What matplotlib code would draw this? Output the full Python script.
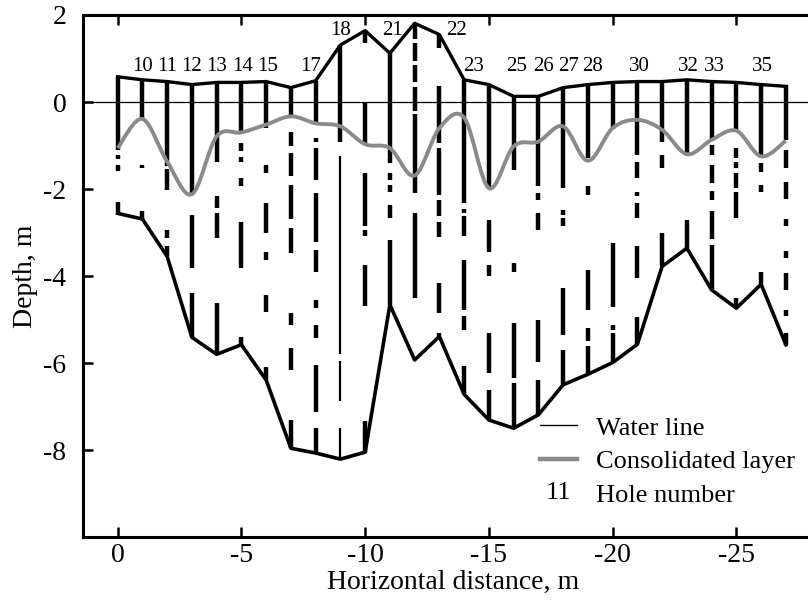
import matplotlib
matplotlib.use("Agg")
import matplotlib.pyplot as plt
from matplotlib.path import Path
from matplotlib.patches import PathPatch
from matplotlib.lines import Line2D
from matplotlib.text import Text
from matplotlib.legend_handler import HandlerBase

plt.rcParams['font.family'] = ['Liberation Serif', 'DejaVu Serif']
plt.rcParams['axes.unicode_minus'] = False

# hole positions along the profile (m)
hole_x = [0, -1, -2, -3, -4, -5, -6, -7, -8, -9, -10, -11, -12, -13,
          -14, -15, -16, -17, -18, -19, -20, -21, -22, -23, -24, -25, -26, -27]

# ice surface (top) and ice bottom (keel) at each hole, m
top_y = [0.58, 0.51, 0.47, 0.40, 0.45, 0.45, 0.47, 0.33, 0.49, 1.31, 1.64, 1.12, 1.81, 1.55,
         0.51, 0.40, 0.13, 0.13, 0.33, 0.40, 0.45, 0.47, 0.47, 0.51, 0.47, 0.45, 0.40, 0.36]
bottom_y = [-2.56, -2.69, -3.55, -5.41, -5.80, -5.58, -6.39, -7.96, -8.07, -8.21, -8.05, -4.66, -5.93, -5.39,
            -6.72, -7.31, -7.50, -7.19, -6.50, -6.26, -5.99, -5.57, -3.78, -3.36, -4.32, -4.74, -4.19, -5.58]

# consolidated layer depth at each hole, m
cons_y = [-1.06, -0.39, -1.37, -2.12, -0.79, -0.70, -0.52, -0.33, -0.49, -0.56, -0.97, -1.06, -1.69, -0.60,
          -0.36, -1.98, -1.02, -0.91, -0.56, -1.35, -0.60, -0.41, -0.64, -1.20, -0.87, -0.66, -1.25, -0.89]

# solid ice intervals found while drilling each hole (top, bottom), m
ice_runs = [
    [(0.58, -1.10), (-1.22, -1.32), (-1.44, -1.58), (-2.30, -2.56)],
    [(0.51, -0.41), (-1.44, -1.52), (-2.50, -2.69)],
    [(0.47, -1.48), (-1.55, -2.02), (-2.94, -3.13), (-3.32, -3.55)],
    [(0.40, -2.10), (-2.59, -3.81), (-4.39, -5.41)],
    [(0.45, -1.37), (-2.17, -2.44), (-2.56, -3.13), (-4.62, -5.80)],
    [(0.45, -0.72), (-0.95, -1.13), (-1.26, -1.38), (-1.75, -1.94), (-2.75, -3.82), (-5.40, -5.58)],
    [(0.47, -0.60), (-1.44, -1.64), (-2.33, -3.02), (-3.44, -3.63), (-4.43, -4.82), (-6.10, -6.39)],
    [(0.33, -0.33), (-0.68, -1.02), (-1.18, -1.70), (-1.90, -2.69), (-2.90, -3.48), (-4.85, -5.12),
     (-5.66, -6.16), (-7.30, -7.96)],
    [(0.49, -0.45), (-0.83, -0.91), (-1.06, -1.79), (-2.10, -3.21), (-3.40, -3.90), (-4.55, -4.74),
     (-5.12, -5.43), (-6.04, -7.12), (-7.50, -8.07)],
    [(1.31, -0.91), (-1.25, -5.80), (-5.95, -6.88), (-7.50, -8.21)],
    [(1.64, 1.35), (0.00, -0.97), (-1.64, -2.86), (-2.94, -3.09), (-3.74, -4.70), (-7.34, -8.05)],
    [(1.12, -1.41), (-1.64, -1.79), (-1.91, -2.06), (-2.37, -2.67), (-3.17, -4.66)],
    [(1.81, 1.45), (1.35, 0.95), (0.85, 0.45), (0.35, -0.20), (-0.28, -2.10), (-2.55, -4.51)],
    [(1.55, 1.25), (0.36, -0.95), (-1.06, -2.14), (-2.25, -2.63), (-2.75, -3.10), (-4.17, -4.85),
     (-5.30, -5.39)],
    [(0.51, -2.33), (-2.45, -2.55), (-2.63, -3.09), (-3.63, -4.78), (-4.93, -5.24), (-6.08, -6.72)],
    [(0.40, -1.98), (-2.71, -3.44), (-3.74, -4.01), (-5.31, -6.23), (-6.62, -7.31)],
    [(0.13, -1.56), (-3.71, -3.90), (-5.08, -6.35), (-6.46, -7.50)],
    [(0.13, -1.94), (-2.10, -2.25), (-2.56, -2.94), (-5.01, -5.97), (-6.39, -7.19)],
    [(0.33, -1.98), (-2.48, -2.59), (-2.67, -2.86), (-4.28, -5.35), (-5.70, -6.50)],
    [(0.40, -1.29), (-1.94, -2.13), (-3.86, -4.78), (-5.20, -5.50), (-5.62, -6.26)],
    [(0.45, -0.61), (-3.25, -4.72), (-5.12, -5.24), (-5.31, -5.99)],
    [(0.47, -1.21), (-1.37, -1.75), (-2.06, -2.17), (-2.33, -2.67), (-3.30, -4.05), (-4.95, -5.57)],
    [(0.47, -0.91), (-1.21, -1.52), (-3.02, -3.78)],
    [(0.51, -1.21), (-2.71, -3.36)],
    [(0.47, -0.90), (-0.98, -1.21), (-1.44, -1.87), (-2.05, -2.25), (-2.50, -3.15), (-3.28, -4.31)],
    [(0.45, -0.64), (-1.06, -1.29), (-1.37, -1.52), (-1.64, -1.98), (-2.06, -2.67), (-4.50, -4.74)],
    [(0.40, -1.25), (-1.41, -1.60), (-1.90, -2.06), (-3.90, -4.19)],
    [(0.38, -0.87), (-1.10, -1.52), (-1.85, -2.24), (-2.69, -2.84), (-3.43, -3.59), (-3.93, -4.32),
     (-4.78, -4.93), (-5.30, -5.58)],
]

# hole numbers written above the profile
hole_nums = ['10', '11', '12', '13', '14', '15', '17', '18', '21', '22',
             '23', '25', '26', '27', '28', '30', '32', '33', '35']
num_x = [-1, -2, -3, -4, -5.05, -6.05, -7.8, -9, -11.1, -13.7,
         -14.4, -16.1, -17.2, -18.2, -19.2, -21.1, -23.05, -24.1, -26.05]
num_y = [0.82, 0.82, 0.82, 0.82, 0.82, 0.82, 0.82, 1.64, 1.64, 1.64,
         0.82, 0.82, 0.82, 0.82, 0.82, 0.82, 0.82, 0.82, 0.82]


def smooth_path(xs, ys):
    # catmull-rom through the points, drawn as cubic bezier pieces
    pts = list(zip(xs, ys))
    verts = [pts[0]]
    codes = [Path.MOVETO]
    n = len(pts)
    for i in range(n - 1):
        p0 = pts[i - 1] if i > 0 else pts[i]
        p1 = pts[i]
        p2 = pts[i + 1]
        p3 = pts[i + 2] if i + 2 < n else pts[i + 1]
        c1 = (p1[0] + (p2[0] - p0[0]) / 6, p1[1] + (p2[1] - p0[1]) / 6)
        c2 = (p2[0] - (p3[0] - p1[0]) / 6, p2[1] - (p3[1] - p1[1]) / 6)
        verts += [c1, c2, p2]
        codes += [Path.CURVE4] * 3
    return Path(verts, codes)


class HandlerLabel(HandlerBase):
    def create_artists(self, legend, orig_handle, xdescent, ydescent,
                       width, height, fontsize, trans):
        t = Text(width / 2 - xdescent, height / 2 - ydescent, orig_handle.get_text(),
                 ha='center', va='center', fontsize=fontsize, transform=trans)
        return [t]


fig = plt.figure(figsize=(8.08, 6.05), dpi=100)
ax = fig.add_axes([83 / 808, 68 / 605, 740 / 808, 522 / 605])

for k, x in enumerate(hole_x):
    for j, (a, b) in enumerate(ice_runs[k]):
        lw = 3.2
        if x == -9 and j > 0:
            lw = 1.6
        ax.plot([x, x], [a, b], color='black', lw=lw, solid_capstyle='butt', zorder=2)

ax.axhline(0, color='black', lw=0.9, zorder=3)
ax.plot(hole_x, top_y, color='black', lw=2.4, zorder=4)
ax.plot(hole_x, bottom_y, color='black', lw=2.6, zorder=4)
ax.add_patch(PathPatch(smooth_path(hole_x, cons_y), fill=False, edgecolor='#8a8a8a',
                       lw=2.8, zorder=5))

for s, x, y in zip(hole_nums, num_x, num_y):
    ax.text(x, y, s, ha='center', va='center', fontsize=15)

ax.set_xlim(1.4, -28.5)
ax.set_ylim(-10, 2)
ax.set_xticks([0, -5, -10, -15, -20, -25])
ax.set_yticks([2, 0, -2, -4, -6, -8])
ax.tick_params(direction='in', length=7, width=1.8, top=True, labelsize=20)
ax.tick_params(axis='y', pad=12)
ax.tick_params(axis='x', pad=4)
for sp in ax.spines.values():
    sp.set_linewidth(2.2)

ax.set_xlabel('Horizontal distance, m', fontsize=20, labelpad=2)
ax.set_ylabel('Depth, m', fontsize=20, labelpad=4)

handles = [Line2D([], [], color='black', lw=1.0),
           Line2D([], [], color='#8a8a8a', lw=3.2),
           Text(text='11')]
labels = ['Water line', 'Consolidated layer', 'Hole number']
ax.legend(handles, labels, handler_map={Text: HandlerLabel()},
          loc='upper left', bbox_to_anchor=(527 / 808, 1 - 403 / 605),
          bbox_transform=fig.transFigure, frameon=False, fontsize=19,
          borderpad=0, handlelength=1.4, handletextpad=0.72, labelspacing=0.39)

fig.savefig('out.png', dpi=100)
